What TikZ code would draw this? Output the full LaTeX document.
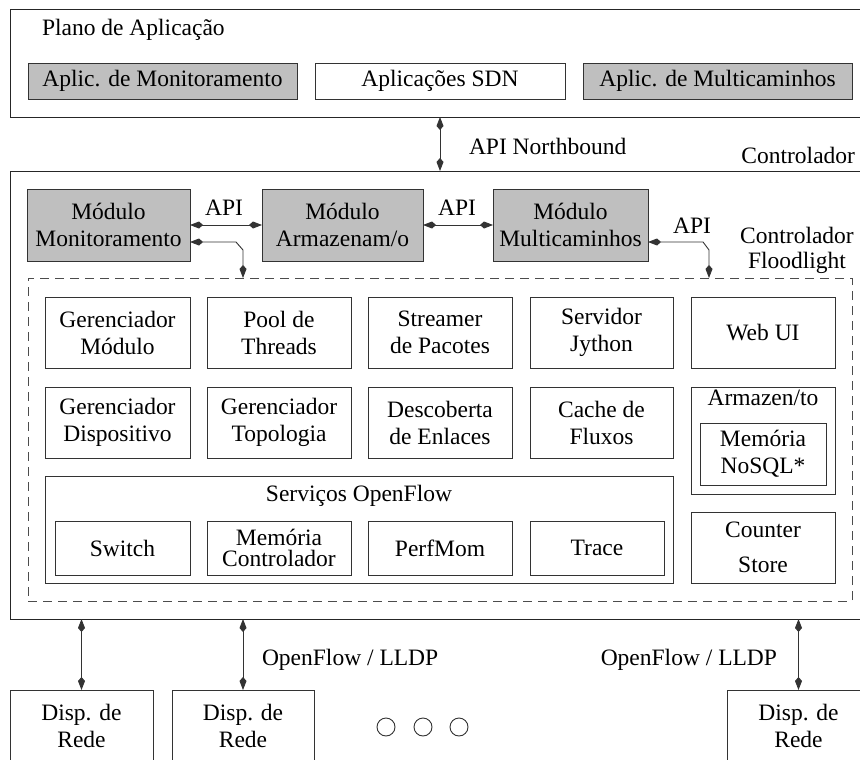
\documentclass[tikz,border=0pt]{standalone}
\usepackage{fontspec}
\setmainfont{Liberation Serif}
\usetikzlibrary{arrows.meta}
% rectangle node given by its corners: options, name, x1, y1, x2, y2, text
\newcommand\blk[7]{%
  \node[#1, minimum width={(#5-#3)*1pt}, minimum height={(#6-#4)*1pt}]
    (#2) at ({(#3+#5)/2},{(#4+#6)/2}) {#7};}
\begin{document}
\begin{tikzpicture}[x=1pt,y=-1pt,
  every node/.style={inner sep=0pt, outer sep=0pt, align=center,
    font=\fontsize{23.5}{27}\selectfont},
  box/.style={rectangle, draw=black!80, line width=0.9pt},
  shaded/.style={box, fill=black!25},
  layer/.style={rectangle, draw=black!85, line width=1pt},
  frame/.style={rectangle, draw=black!70, line width=0.9pt, dash pattern=on 9pt off 6pt},
  tip/.tip={Kite[length=13pt,width=7pt,inset=4pt]},
  link/.style={draw=black!80, line width=0.9pt, tip-tip},
  dot/.style={circle, draw=black!80, line width=0.9pt, minimum size=18pt}
]
\useasboundingbox (0,0) rectangle (860,760);

% application plane
\blk{layer}{plano}{10}{10}{866}{117}{}
\node[anchor=base west] (planolbl) at (42,35.5) {Plano de Aplicação};
\blk{shaded}{amon}{28}{63}{297}{99}{Aplic. de Monitoramento}
\blk{box}{asdn}{315}{63}{565}{99}{Aplicações SDN}
\blk{shaded}{amul}{583}{63}{852}{99}{Aplic. de Multicaminhos}

% controller
\blk{layer}{ctl}{10}{171}{866}{619}{}
\node[anchor=base east] (ctllbl) at (855,163) {Controlador};
\node[anchor=base west] (nblbl) at (469,154) {API Northbound};

\blk{shaded}{mmon}{27}{189}{190}{261}{Módulo\\Monitoramento}
\blk{shaded}{marm}{262}{189}{423}{261}{Módulo\\Armazenam/o}
\blk{shaded}{mmul}{493}{189}{648}{261}{Módulo\\Multicaminhos}
\node[anchor=base] (api1) at (224,215) {API};
\node[anchor=base] (api2) at (457,215) {API};
\node[anchor=base] (api3) at (692,233) {API};
\node (fllbl) at (797,250) {Controlador\\[-2pt]Floodlight};

% Floodlight core
\blk{frame}{fl}{28}{278}{852}{601}{}
\coordinate (fl1) at (243,278);
\coordinate (fl2) at (709,278);

\blk{box}{gm}{45}{297}{190}{368}{Gerenciador\\Módulo}
\blk{box}{pool}{207}{297}{351}{368}{Pool de\\Threads}
\blk{box}{strm}{368}{297}{512}{368}{Streamer\\de Pacotes}
\blk{box}{jyth}{530}{297}{673}{368}{Servidor\\Jython}
\blk{box}{web}{691}{297}{835}{368}{Web UI}

\blk{box}{gd}{45}{387}{190}{458}{Gerenciador\\Dispositivo}
\blk{box}{gt}{207}{387}{351}{458}{Gerenciador\\Topologia}
\blk{box}{desc}{368}{387}{512}{458}{Descoberta\\de Enlaces}
\blk{box}{cache}{530}{387}{673}{458}{Cache de\\Fluxos}

\blk{box}{store}{691}{387}{835}{494}{}
\node[anchor=base] (storelbl) at (763,405) {Armazen/to};
\blk{box}{nosql}{700}{423}{826}{485}{Memória\\NoSQL*}
\blk{box, font=\fontsize{23.5}{35}\selectfont}{cnt}{691}{512}{835}{583}{Counter\\Store}

\blk{box}{ofs}{45}{476}{673}{583}{}
\node[anchor=base] (ofslbl) at (359,501) {Serviços OpenFlow};
\blk{box}{sw}{55}{521}{190}{575}{Switch}
\blk{box, font=\fontsize{23.5}{20.5}\selectfont}{memc}{207}{521}{351}{575}{Memória\\Controlador}
\blk{box}{perf}{368}{521}{512}{575}{PerfMom}
\blk{box}{trace}{530}{521}{664}{575}{Trace}

% network devices
\blk{box}{disp1}{10}{690}{153}{762}{Disp. de\\Rede}
\blk{box}{disp2}{172}{690}{314}{762}{Disp. de\\Rede}
\blk{box}{disp3}{727}{690}{870}{762}{Disp. de\\Rede}
\node[dot] (c1) at (386,727) {};
\node[dot] (c2) at (423,727) {};
\node[dot] (c3) at (459,727) {};
\node[anchor=base west] (of1) at (262,665) {OpenFlow / LLDP};
\node[anchor=base east] (of2) at (777,665) {OpenFlow / LLDP};

% connectors
\draw[link] (asdn.south |- plano.south) -- (asdn.south |- ctl.north);
\draw[link] (mmon) -- (marm);
\draw[link] (marm) -- (mmul);
\draw[link] ([shift={(0,17)}]mmon.east) -- ++(46,0) -- ++(7,8) -- (fl1);
\draw[link] ([shift={(0,17)}]mmul.east) -- ++(55,0) -- ++(6,8) -- (fl2);
\draw[link] (disp1.north |- ctl.south) -- (disp1.north);
\draw[link] (disp2.north |- ctl.south) -- (disp2.north);
\draw[link] (disp3.north |- ctl.south) -- (disp3.north);
\end{tikzpicture}
\end{document}
